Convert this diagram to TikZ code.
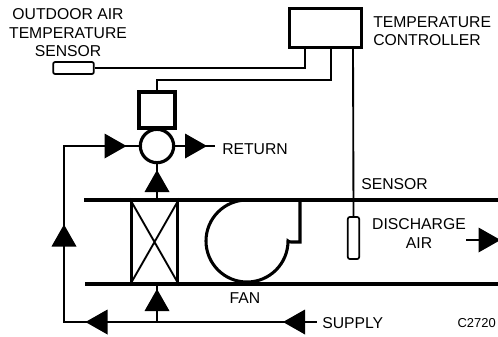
\documentclass[tikz,border=0pt]{standalone}
\usepackage{fontspec}
\setmainfont{Liberation Sans}
\begin{document}
\begin{tikzpicture}[x=0.75pt,y=-0.75pt,
    every node/.style={font=\fontsize{11.8}{13.9}\selectfont,inner sep=0pt},
    box/.style={draw,line width=#1,minimum width=0pt,minimum height=0pt},
    wire/.style={line width=1.6pt},
    flow/.style={line width=1.6pt},
    duct/.style={line width=3.2pt}]
  \useasboundingbox (0,0) rectangle (498,336);
  % labels
  \node[align=center] (oalabel) at (68,33) {OUTDOOR AIR\\TEMPERATURE\\SENSOR};
  \node[align=left,anchor=west] (ctllabel) at (373,31) {TEMPERATURE\\CONTROLLER};
  \node[anchor=west] (retlabel) at (222,149) {RETURN};
  \node[anchor=west] (senslabel) at (361,184) {SENSOR};
  \node[align=center] (dalabel) at (419,233.5) {DISCHARGE\\AIR};
  \node (fanlabel) at (245,298) {FAN};
  \node[anchor=west] (suplabel) at (322,323) {SUPPLY};
  \node[anchor=east,font=\fontsize{9.7}{11}\selectfont] (codelabel) at (496,323) {C2720};
  % components
  \node[box=2.5pt,minimum width=54pt,minimum height=29pt] (ctl) at (325.5,28) {};
  \node[box=1.3pt,rounded corners=1.5pt,minimum width=30.5pt,minimum height=9pt] (oasens) at (73.5,68) {};
  \node[box=2.4pt,minimum width=27pt,minimum height=27pt] (act) at (157,110) {};
  \node[box=2.4pt,circle,minimum size=25pt] (dmp) at (157,146) {};
  \node[box=1.3pt,rounded corners=1.5pt,minimum width=8.5pt,minimum height=31.5pt] (dasens) at (353.5,238) {};
  \node[box=2.4pt,minimum width=35pt,minimum height=63pt] (filt) at (154.5,242) {};
  \draw[line width=1.4pt] (filt.north west) -- (filt.south east) (filt.north east) -- (filt.south west);
  % duct
  \coordinate (dtl) at (84,200);
  \coordinate (dtr) at (498,200);
  \coordinate (dbl) at (85,284);
  \coordinate (dbr) at (498,284);
  \draw[duct] (dtl) -- (dtr);
  \draw[duct] (dbl) -- (dbr);
  % fan
  \draw[line width=2.3pt] (247,200) arc[start angle=-90,delta angle=-270,radius=41]
    .. controls (288,241) and (289,242) .. (291,242) -- (300,242) -- (300,200);
  % wires
  \coordinate (ctla) at (305,48);
  \coordinate (ctlb) at (331,48);
  \coordinate (ctlc) at (353,48);
  \coordinate (actw) at (157,80);
  \draw[wire] (oasens.east) -| (ctla);
  \draw[wire] (act.north) -- (actw) -| (ctlb);
  \draw[line width=1.4pt] (ctlc) -- (dasens.north);
  % air flow
  \coordinate (rin) at (64,146);
  \coordinate (rout) at (215,146);
  \coordinate (sout) at (64,322);
  \coordinate (sin) at (317,322);
  \coordinate (mix) at (157,322);
  \coordinate (dbot) at (157,284);
  \coordinate (dtop) at (157,200);
  \coordinate (dain) at (466,240);
  \coordinate (daout) at (498,240);
  \draw[flow] (dmp.west) -- (rin) -- (sout) -- (sin);
  \draw[flow] (dmp.east) -- (rout);
  \draw[flow] (mix) -- (dbot);
  \draw[flow] (dtop) -- (dmp.south);
  \draw[flow] (dain) -- (daout);
  % arrow heads
  \foreach \x/\y/\a in {115.5/146/0,196/146/0,157/181/90,64/235.5/90,
                        157/300/90,96.5/322/180,294/322/180,489.5/240/0}
    \fill[shift={(\x,\y)},rotate=\a] (-11,-12.5) -- (11,0) -- (-11,12.5) -- cycle;
\end{tikzpicture}
\end{document}
